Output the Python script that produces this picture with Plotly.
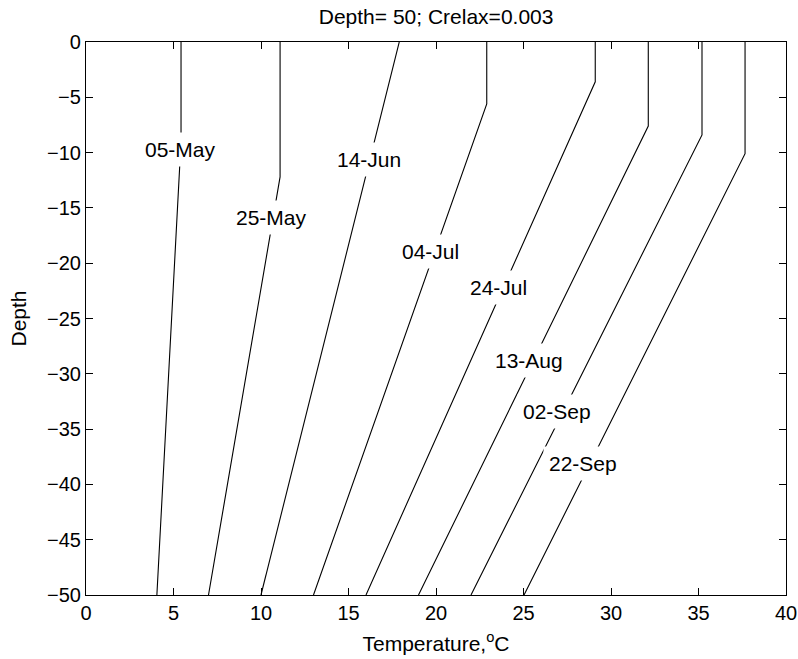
import plotly.graph_objects as go

# Profiles: (temperature, depth) vertices
dates = ["05-May", "25-May", "14-Jun", "04-Jul", "24-Jul", "13-Aug", "02-Sep", "22-Sep"]
surface_temp = [5.43, 11.09, 17.9, 22.9, 29.1, 32.13, 35.2, 37.66]
mixed_depth = [-9.0, -12.2, 0.0, -5.6, -3.6, -7.6, -8.4, -10.1]
bottom_temp = [4.05, 7.0, 10.0, 13.0, 16.0, 19.0, 22.0, 25.03]
bottom_depth = -50

label_x = [5.4, 10.6, 16.17, 19.66, 23.56, 25.31, 26.93, 28.42]
label_y = [-9.69, -15.9, -10.6, -18.96, -22.2, -28.84, -33.4, -38.1]

x_ticks = [0, 5, 10, 15, 20, 25, 30, 35, 40]
y_ticks = [0, -5, -10, -15, -20, -25, -30, -35, -40, -45, -50]

FONT = "Liberation Sans, Arial, Helvetica, sans-serif"
FS = 21
TFS = 20

fig = go.Figure()
for ts, md, tb in zip(surface_temp, mixed_depth, bottom_temp):
    fig.add_trace(go.Scatter(
        x=[ts, ts, tb], y=[0, md, bottom_depth], mode="lines",
        line=dict(color="black", width=1.1), showlegend=False, hoverinfo="skip"))

for d, lx, ly in zip(dates, label_x, label_y):
    fig.add_annotation(x=lx, y=ly, text=d, showarrow=False, bgcolor="white",
                       borderpad=5, font=dict(family=FONT, size=FS, color="black"))

axis_common = dict(showgrid=False, zeroline=False, showline=True, linecolor="black",
                   linewidth=1.2, mirror="ticks", ticks="inside", ticklen=7,
                   tickcolor="black", tickwidth=1, automargin=False,
                   tickfont=dict(family=FONT, size=TFS, color="black"))

fig.update_xaxes(range=[0, 40], tickvals=x_ticks,
                 title=dict(text="Temperature,<sup>o</sup>C", font=dict(family=FONT, size=FS, color="black"), standoff=13),
                 **axis_common)
fig.update_yaxes(range=[-50, 0], tickvals=y_ticks,
                 title=dict(text="Depth", font=dict(family=FONT, size=FS, color="black"), standoff=14),
                 **axis_common)

fig.update_layout(
    width=798, height=659,
    margin=dict(l=86, r=12, t=42, b=64, pad=0),
    paper_bgcolor="white", plot_bgcolor="white",
    title=dict(text="Depth= 50; Crelax=0.003", x=0.5465, xanchor="center", y=0.975, yanchor="middle",
               font=dict(family=FONT, size=FS, color="black")),
)

fig.write_html("out.html")
